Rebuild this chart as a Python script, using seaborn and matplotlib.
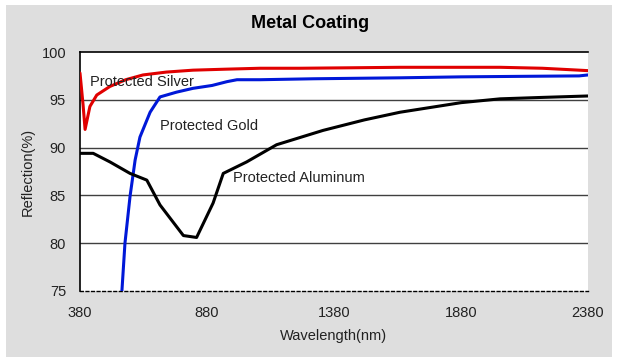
import matplotlib
matplotlib.use("Agg")
import matplotlib.pyplot as plt
import seaborn as sns
import pandas as pd
from matplotlib.patches import Rectangle

# Data
silver_wl = [380, 392, 400, 419, 446, 498, 560, 628, 720, 825, 950, 1089, 1245, 1450, 1640, 1850, 2034, 2200, 2345, 2380]
silver_r  = [97.8, 94.5, 91.9, 94.3, 95.5, 96.4, 97.1, 97.6, 97.9, 98.1, 98.2, 98.3, 98.3, 98.35, 98.4, 98.4, 98.4, 98.3, 98.1, 98.05]

gold_wl = [545, 557, 577, 597, 616, 656, 695, 760, 825, 900, 959, 998, 1089, 1300, 1640, 1880, 2100, 2345, 2380]
gold_r  = [75.0, 80.0, 84.9, 88.7, 91.1, 93.7, 95.3, 95.8, 96.2, 96.5, 96.9, 97.1, 97.1, 97.2, 97.3, 97.4, 97.45, 97.5, 97.6]

alu_wl = [380, 432, 498, 577, 643, 695, 787, 839, 904, 944, 1036, 1154, 1337, 1500, 1640, 1880, 2034, 2200, 2380]
alu_r  = [89.4, 89.4, 88.5, 87.3, 86.6, 84.0, 80.8, 80.6, 84.2, 87.3, 88.5, 90.3, 91.8, 92.9, 93.7, 94.7, 95.1, 95.25, 95.4]

labels = ["Protected Silver", "Protected Gold", "Protected Aluminum"]
colors = ["#e00000", "#0018d8", "#000000"]
x_ticks = [380, 880, 1380, 1880, 2380]
y_ticks = [75, 80, 85, 90, 95, 100]

df = pd.concat([
    pd.DataFrame({"wl": silver_wl, "r": silver_r, "s": labels[0]}),
    pd.DataFrame({"wl": gold_wl, "r": gold_r, "s": labels[1]}),
    pd.DataFrame({"wl": alu_wl, "r": alu_r, "s": labels[2]}),
])

sns.set_style("white")
plt.rcParams['font.family'] = ['Liberation Sans', 'DejaVu Sans']

fig = plt.figure(figsize=(6.2, 3.64), dpi=100)
fig.patch.set_facecolor("white")
fig.patches.append(Rectangle((6/620, 1 - 357/364), (612-6)/620, (357-5)/364,
                             transform=fig.transFigure, facecolor="#dedede",
                             edgecolor="none", zorder=-10))
ax = fig.add_axes([80/620, 1 - 291/364, (588-80)/620, (291-52)/364])
ax.set_facecolor("white")

for y in [80, 85, 90, 95]:
    ax.axhline(y, color="#404040", lw=1.0, zorder=1)

sns.lineplot(data=df, x="wl", y="r", hue="s", palette=dict(zip(labels, colors)),
             lw=2.2, ax=ax, legend=False, zorder=3, sort=False, estimator=None)

ax.set_xlim(380, 2380)
ax.set_ylim(75, 100)
ax.set_xticks(x_ticks)
ax.set_yticks(y_ticks)
ax.tick_params(axis="both", length=0, labelsize=10.5, colors="#222222")
ax.tick_params(axis="x", pad=11)
ax.tick_params(axis="y", pad=10)

ax.spines["right"].set_visible(False)
ax.spines["top"].set_color("black"); ax.spines["top"].set_linewidth(1.2)
ax.spines["left"].set_color("black"); ax.spines["left"].set_linewidth(1.2)
ax.spines["bottom"].set_color("black"); ax.spines["bottom"].set_linewidth(1.0)
ax.spines["bottom"].set_linestyle((0, (2, 2)))

ax.set_xlabel("Wavelength(nm)", fontsize=10.5, color="#222222", labelpad=6)
ax.set_ylabel("Reflection(%)", fontsize=10.5, color="#222222", labelpad=5)

ax.text(419, 96.85, "Protected Silver", fontsize=10.5, color="#222222", va="center", zorder=4)
ax.text(695, 92.3, "Protected Gold", fontsize=10.5, color="#222222", va="center", zorder=4)
ax.text(982, 86.8, "Protected Aluminum", fontsize=10.5, color="#222222", va="center", zorder=4)

fig.text(0.5, 1 - 23/364, "Metal Coating", ha="center", va="center",
         fontsize=13, fontweight="bold", color="black")

fig.savefig("out.png", dpi=100, facecolor=fig.get_facecolor())
